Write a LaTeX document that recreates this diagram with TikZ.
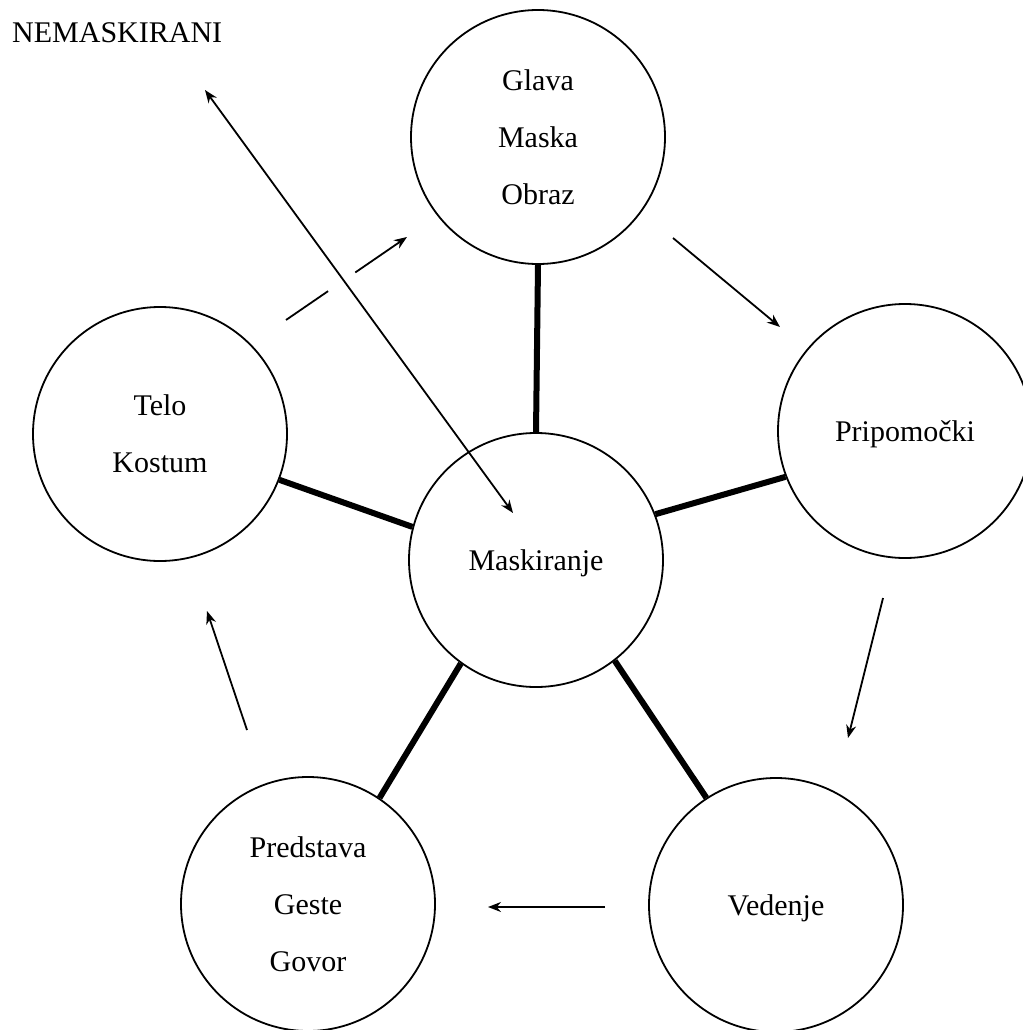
\documentclass[tikz,border=0pt]{standalone}
\usepackage{fontspec}
\setmainfont{Liberation Serif}
\usetikzlibrary{arrows.meta}
\begin{document}
\begin{tikzpicture}[x=1pt,y=-1pt,
  bub/.style={circle,draw,line width=1.8pt,minimum size=254pt,inner sep=0pt,align=center,font=\fontsize{30}{57}\selectfont},
  one/.style={text depth=0pt},
  spoke/.style={line width=6pt},
  flow/.style={line width=1.8pt,-{Stealth[length=13pt,width=10pt]}},
  lbl/.style={font=\fontsize{30}{36}\selectfont,inner sep=0pt}]
\useasboundingbox (0,0) rectangle (1022,1030);
\node[bub] (glava) at (538,137) {Glava\\Maska\\Obraz};
\node[bub] (telo) at (160,434) {Telo\\Kostum};
\node[bub,one] (prip) at (905,431) {Pripomočki};
\node[bub,one] (mask) at (536,560) {Maskiranje};
\node[bub] (pred) at (308,904) {Predstava\\Geste\\Govor};
\node[bub,one] (ved) at (776,905) {Vedenje};
\node[lbl,anchor=west] (nem) at (12,33) {NEMASKIRANI};
% spokes
\draw[spoke] (glava.270) -- (mask.90);
\draw[spoke] (telo.-21) -- (mask.165);
\draw[spoke] (prip.-159) -- (mask.21);
\draw[spoke] (pred.56) -- (mask.-126);
\draw[spoke] (ved.123) -- (mask.-52);
% flow arrows
\coordinate (a1s) at (673,238); \coordinate (a1e) at (780,327);
\coordinate (a2s) at (883,598); \coordinate (a2e) at (848,738);
\coordinate (a3s) at (605,907); \coordinate (a3e) at (488,907);
\coordinate (a4s) at (247,730); \coordinate (a4e) at (207,611);
\coordinate (a5s) at (286,320); \coordinate (a5e) at (407,237);
\coordinate (n1) at (205,90); \coordinate (n2) at (513,513);
\draw[flow] (a1s) -- (a1e);
\draw[flow] (a2s) -- (a2e);
\draw[flow] (a3s) -- (a3e);
\draw[flow] (a4s) -- (a4e);
\draw[flow,dash pattern=on 51pt off 33pt on 300pt] (a5s) -- (a5e);
\draw[flow,{Stealth[length=13pt,width=10pt]}-{Stealth[length=13pt,width=10pt]}] (n1) -- (n2);
\end{tikzpicture}
\end{document}
